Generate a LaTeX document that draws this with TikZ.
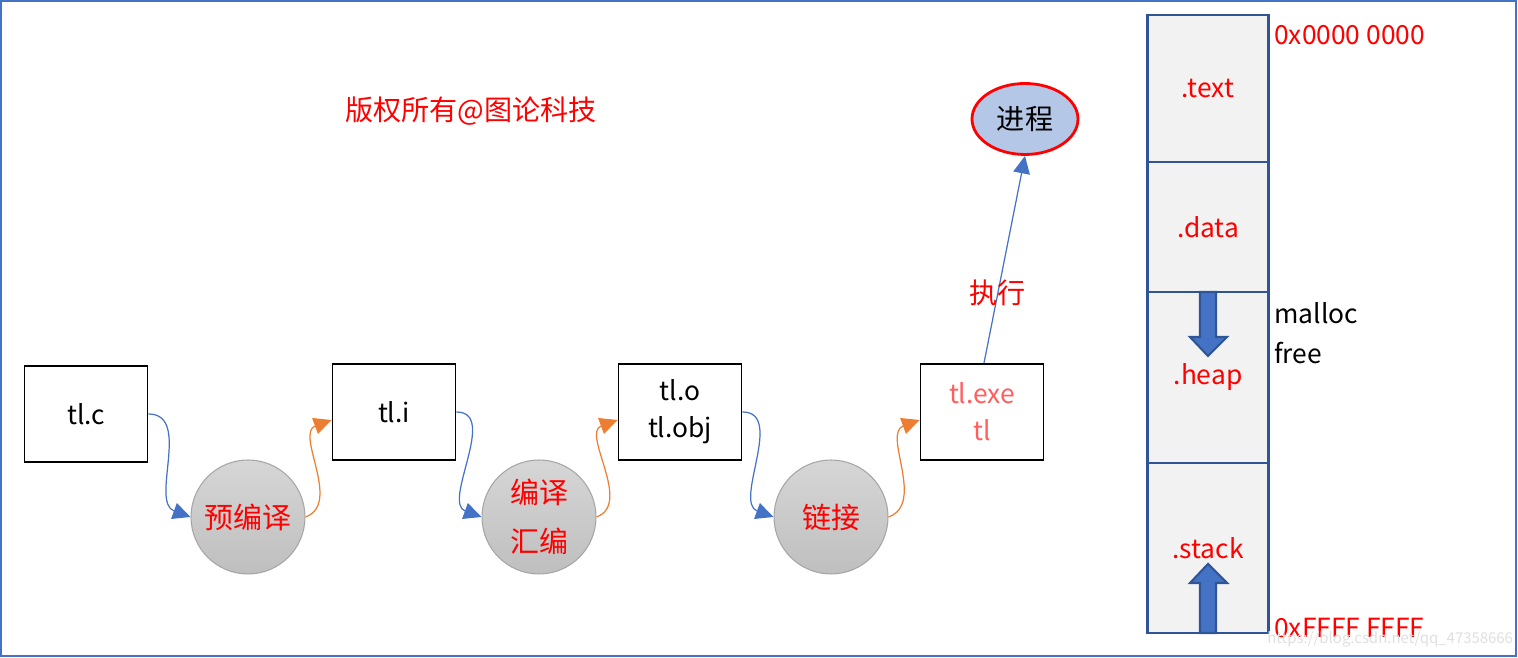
\documentclass[tikz,border=0pt]{standalone}
\usepackage{fontspec}
\setmainfont{Noto Sans CJK SC}
\usetikzlibrary{arrows.meta, positioning, shapes.geometric}

\definecolor{flowblue}{RGB}{68,114,196}
\definecolor{floworange}{RGB}{237,125,49}
\definecolor{segline}{RGB}{47,85,151}
\definecolor{segfill}{RGB}{242,242,242}
\definecolor{procfill}{RGB}{180,199,231}
\definecolor{exered}{RGB}{255,95,95}
\definecolor{ringtop}{RGB}{214,214,214}
\definecolor{ringbot}{RGB}{191,191,191}

\begin{document}
\begin{tikzpicture}[
    x=0.02cm, y=0.02cm,
    filebox/.style={
        rectangle,
        draw=black,
        line width=1.1pt,
        fill=white,
        align=center,
        minimum width=2.46cm,
        minimum height=1.92cm,
        font=\fontsize{15}{21}\selectfont
    },
    stage/.style={
        circle,
        draw=gray!70,
        line width=0.6pt,
        top color=ringtop,
        bottom color=ringbot,
        minimum size=2.28cm,
        inner sep=0pt,
        align=center,
        text=red,
        font=\fontsize{16.5}{28}\selectfont
    },
    seg/.style={
        rectangle,
        draw=segline,
        line width=1.4pt,
        fill=segfill,
        minimum width=2.42cm,
        outer sep=0pt,
        text=red,
        font=\fontsize{15}{18}\selectfont
    },
    fwd/.style={draw=flowblue, line width=0.7pt, -{Triangle[length=10pt, width=9.5pt]}},
    ret/.style={draw=floworange, line width=0.7pt, -{Triangle[length=10pt, width=9.5pt]}},
    memo/.style={anchor=west, inner sep=0pt, font=\fontsize{15}{18}\selectfont},
    growth/.style={fill=flowblue, draw=segline, line width=1.2pt}
]

\useasboundingbox (0,0) rectangle (1518,658);
\draw[flowblue, line width=1.2pt] (1,2) rectangle (1516,657);

% Title
\node[text=red, font=\fontsize{16}{20}\selectfont] (title) at (471,547) {版权所有@图论科技};

% Files
\node[filebox] (tlc) at (86,244) {tl.c};
\node[filebox] (tli) at (394,246) {tl.i};
\node[filebox] (tlo) at (680,246) {tl.o\\tl.obj};
\node[filebox, text=exered] (tlexe) at (982,246) {tl.exe\\tl};

% Build stages
\node[stage] (pre) at (248,141) {预编译};
\node[stage] (comp) at (539,141) {编译\\汇编};
\node[stage] (link) at (831,141) {链接};

% Process
\node[ellipse, draw=red, line width=1.6pt, fill=procfill, minimum width=2.12cm,
    minimum height=1.42cm, inner sep=0pt, font=\fontsize{16}{20}\selectfont] (proc) at (1025,539) {进程};

\draw[fwd] (tlc.east) to[out=0, in=160] (pre.west);
\draw[ret] (pre.east) to[out=20, in=200] ([yshift=-0.16cm]tli.west);
\draw[fwd] (tli.east) to[out=0, in=160] (comp.west);
\draw[ret] (comp.east) to[out=20, in=200] ([yshift=-0.16cm]tlo.west);
\draw[fwd] (tlo.east) to[out=0, in=160] (link.west);
\draw[ret] (link.east) to[out=20, in=200] ([yshift=-0.16cm]tlexe.west);
\draw[fwd] ([xshift=0.04cm]tlexe.north) -- (proc.south)
    node[pos=0.34, text=red, font=\fontsize{16}{20}\selectfont] {执行};

% Memory layout
\node[seg, minimum height=2.94cm] (text) at (1208,569.5) {.text};
\node[seg, minimum height=2.6cm, below=0pt of text] (data) {.data};
\node[seg, minimum height=3.42cm, below=0pt of data] (heap) {.heap};
\node[seg, minimum height=3.4cm, below=0pt of heap] (stack) {.stack};

\draw[growth] (1200,366) -- (1216,366) -- (1216,321) -- (1227,321) -- (1208,302)
    -- (1190,321) -- (1200,321) -- cycle;
\draw[growth] (1200,25) -- (1200,75) -- (1190,75) -- (1208,94) -- (1227,75)
    -- (1216,75) -- (1216,25) -- cycle;

\node[memo, text=red] (low) at (1274,623) {0x0000 0000};
\node[memo] (malloc) at (1274,345) {malloc};
\node[memo] (free) at (1274,305) {free};
\node[memo, text=red] (high) at (1274,30) {0xFFFF FFFF};
\node[anchor=west, inner sep=0pt, text=gray!25, font=\fontsize{8.5}{10}\selectfont] (mark) at (1267,19) {https://blog.csdn.net/qq\_47358666};

\end{tikzpicture}
\end{document}
